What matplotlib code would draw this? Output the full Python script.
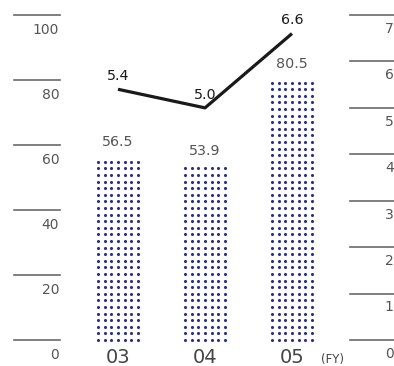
import numpy as np
import matplotlib
matplotlib.use("Agg")
import matplotlib.pyplot as plt

plt.rcParams['font.family'] = ['DejaVu Sans']

# Data
years = ["03", "04", "05"]
sales = [56.5, 53.9, 80.5]          # bars, left scale
margin_pct = [5.4, 5.0, 6.6]        # line, right scale
left_ticks = [0, 20, 40, 60, 80, 100]
right_ticks = [0, 1, 2, 3, 4, 5, 6, 7]

W, H = 394, 366
fig = plt.figure(figsize=(W / 100, H / 100), dpi=100)

bottom = 26 / H
height = 325 / H
pitch = 87  # px between categories
x = np.arange(len(years))

TXT = '#555555'
RULE = '#6a6a6a'
DOT = '#28318f'

# Main plotting area spans the full width
ax = fig.add_axes([0, bottom, 1, height])
ax.set_xlim(-118 / pitch, (W - 118) / pitch)
ax.set_ylim(0, 100)
ax.axis('off')

# Bars drawn as invisible patches, filled with a dot screen
bar_w = 0.5
bars = ax.bar(x, sales, width=bar_w, color='none', edgecolor='none')
dx = 0.0766   # horizontal dot pitch (data units)
dy = 2.03     # vertical dot pitch (data units)
for rect, v in zip(bars, sales):
    cx = rect.get_x() + rect.get_width() / 2
    cols = cx + dx * np.arange(-3, 4)
    rows = np.arange(0, rect.get_height() - 0.3, dy)
    gx, gy = np.meshgrid(cols, rows)
    ax.scatter(gx.ravel(), gy.ravel(), s=5, color=DOT, linewidths=0,
               clip_on=False)
    ax.annotate(f"{v:.1f}", xy=(cx, v), xytext=(0, 10), textcoords='offset points',
                ha='center', va='center', fontsize=10.3, color=TXT)

# Category labels
for xi, lab in zip(x, years):
    ax.annotate(lab, xy=(xi, 0), xytext=(0, -16.8), textcoords='offset points',
                ha='center', va='baseline', fontsize=14, color='#444444')
ax.annotate("(FY)", xy=(x[-1], 0), xytext=(29.5, -16.3), textcoords='offset points',
            ha='center', va='baseline', fontsize=8.5, color='#444444')

# Line on the right scale
ax2 = ax.twinx()
ax2.set_ylim(0, 7)
ax2.axis('off')
ax2.plot(x, margin_pct, color='#1a1a1a', lw=2.3, solid_capstyle='butt', clip_on=False)
for xi, v in zip(x, margin_pct):
    ax2.annotate(f"{v:.1f}", xy=(xi, v), xytext=(0, 9.5), textcoords='offset points',
                 ha='center', va='center', fontsize=10.3, color='#1a1a1a')

# Left scale: short rules with labels beneath
axl = fig.add_axes([14 / W, bottom, 46 / W, height])
axl.set_ylim(0, 100)
axl.set_xlim(0, 1)
axl.axis('off')
for t in left_ticks:
    axl.axhline(t, color=RULE, lw=1.2, clip_on=False)
    axl.annotate(str(t), xy=(1, t), xycoords=('axes fraction', 'data'),
                 xytext=(-0.5, -11), textcoords='offset points',
                 ha='right', va='center', fontsize=10, color=TXT)

# Right scale: short rules with labels beneath
axr = fig.add_axes([350 / W, bottom, 44 / W, height])
axr.set_ylim(0, 7)
axr.set_xlim(0, 1)
axr.axis('off')
for t in right_ticks:
    axr.axhline(t, color=RULE, lw=1.2, clip_on=False)
    axr.annotate(str(t), xy=(1, t), xycoords=('axes fraction', 'data'),
                 xytext=(-0.3, -10), textcoords='offset points',
                 ha='right', va='center', fontsize=10, color=TXT)

fig.savefig("out.png", dpi=100, facecolor='white')
